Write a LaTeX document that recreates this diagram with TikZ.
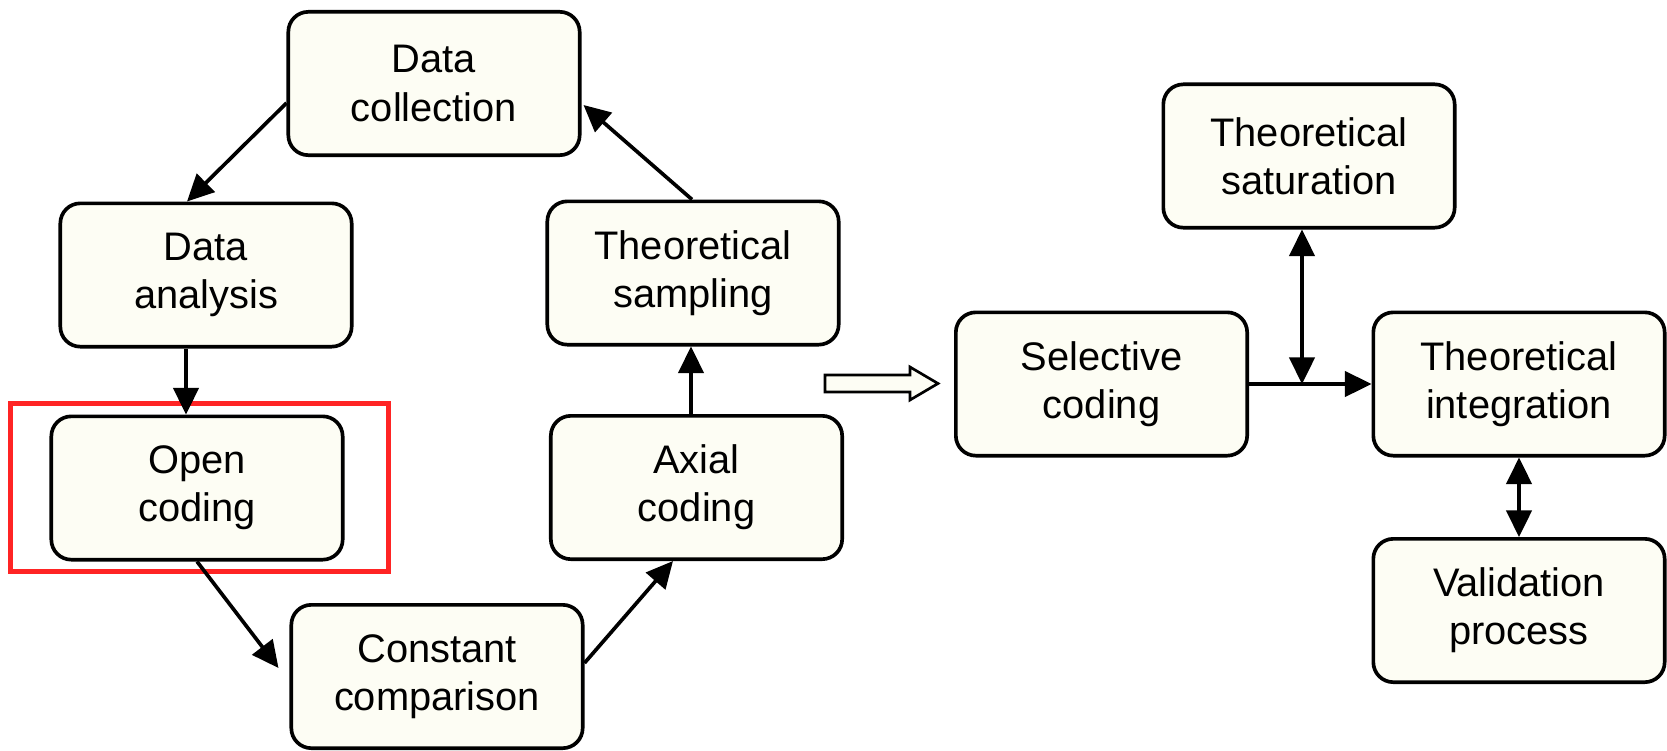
\documentclass[tikz,border=0pt]{standalone}
\usepackage{fontspec}
\setmainfont{Liberation Sans}
\usetikzlibrary{arrows.meta,calc}
\definecolor{boxfill}{RGB}{253,253,244}
\definecolor{markred}{RGB}{255,36,36}
\begin{document}
\begin{tikzpicture}[x=0.03cm,y=-0.03cm,
  stage/.style={draw=black, line width=0.11cm, fill=boxfill, rounded corners=0.6cm,
    minimum width=8.74cm, minimum height=4.3cm, align=center, inner sep=0pt,
    font=\fontsize{34}{41}\selectfont},
  flow/.style={line width=0.11cm, -{Triangle[length=0.8cm,width=0.76cm]}},
  twoway/.style={line width=0.11cm,
    {Triangle[length=0.8cm,width=0.76cm]}-{Triangle[length=0.8cm,width=0.76cm]}},
  hollow/.style={draw=black, line width=0.08cm, fill=boxfill, line join=miter},
  frame/.style={draw=markred, line width=0.15cm},
]
\useasboundingbox (0,0) rectangle (1667,751);

% highlight frame around the open coding step
\draw[frame] (10,403) rectangle (388,571);

% coding cycle
\node[stage] (DC)  at (434,83.5)  {Data\\collection};
\node[stage] (DA)  at (206,275)   {Data\\analysis};
\node[stage] (OC)  at (197,488)   {Open\\coding};
\node[stage] (CC)  at (437,676.5) {Constant\\comparison};
\node[stage] (AC)  at (696.5,487.5) {Axial\\coding};
\node[stage] (TS)  at (693,273)   {Theoretical\\sampling};

% theory building
\node[stage] (SC)   at (1101.5,384) {Selective\\coding};
\node[stage] (TSat) at (1309,156)   {Theoretical\\saturation};
\node[stage] (TI)   at (1519,384)   {Theoretical\\integration};
\node[stage] (VP)   at (1519,610.5) {Validation\\process};

% cycle connectors
\draw[flow] ($(DC.west)+(0,19.5)$) -- ($(DA.north)+(-19,0)$);
\draw[flow] ($(DA.south)+(-20,0)$) -- ($(OC.north)+(-11,0)$);
\draw[flow] (OC.south) -- ($(CC.west)+(-11,-8.5)$);
\draw[flow] ($(CC.east)+(0,-13.5)$) -- ($(AC.south)+(-23.5,0)$);
\draw[flow] ($(AC.north)+(-5.5,0)$) -- ($(TS.south)+(-2,0)$);
\draw[flow] ($(TS.north)+(-1,0)$) -- ($(DC.east)+(2,21.5)$);

% hollow transition arrow
\coordinate (HA) at (825,383.5);
\draw[hollow] ($(HA)+(0,-8.5)$) -- ++(85,0) -- ++(0,-8) -- ($(HA)+(113,0)$)
  -- ($(HA)+(85,16.5)$) -- ++(0,-8) -- ($(HA)+(0,8.5)$) -- cycle;

% selective coding links
\coordinate (J) at (1302,384);
\draw[flow] (SC.east) -- (TI.west);
\draw[twoway] (J |- TSat.south) -- (J);
\draw[twoway] (TI.south) -- (VP.north);
\end{tikzpicture}
\end{document}
